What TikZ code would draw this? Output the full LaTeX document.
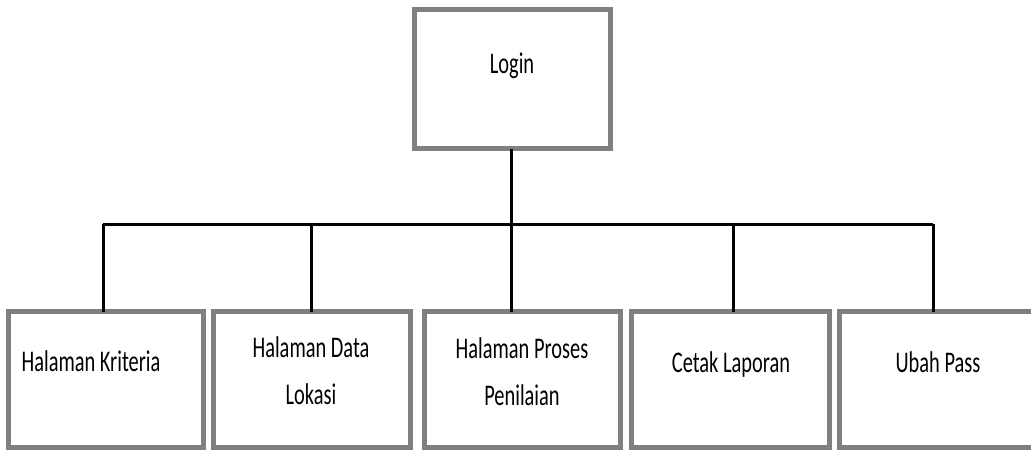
\documentclass[tikz,border=0pt]{standalone}
\usepackage{fontspec}
\setmainfont{Carlito}[FakeStretch=0.68]
\begin{document}
\begin{tikzpicture}[x=1pt,y=-1pt,
  box/.style={draw=boxgray,line width=5pt,fill=white,rectangle,inner sep=0pt,outer sep=0pt,minimum height=136pt},
  lbl/.style={inner sep=0pt,anchor=base,font=\fontsize{30}{30}\selectfont},
  conn/.style={draw=black,line width=3pt}]
\definecolor{boxgray}{HTML}{808080}
\useasboundingbox (0,0) rectangle (1031,450);
% boxes
\node[box,minimum width=196pt,minimum height=139pt] (login) at (512.5,79) {};
\node[box,minimum width=195pt] (b1) at (106,379.5) {};
\node[box,minimum width=197pt] (b2) at (312,379.5) {};
\node[box,minimum width=196pt] (b3) at (522.5,379.5) {};
\node[box,minimum width=198pt] (b4) at (730.5,379.5) {};
\node[box,minimum width=202pt] (b5) at (940.5,379.5) {};
% labels
\node[lbl] (tl) at (512,73) {Login};
\node[lbl] (t1) at (91,371) {Halaman Kriteria};
\node[lbl] (t2a) at (311,357) {Halaman Data};
\node[lbl] (t2b) at (311,404) {Lokasi};
\node[lbl] (t3a) at (522,358) {Halaman Proses};
\node[lbl] (t3b) at (522,405) {Penilaian};
\node[lbl] (t4) at (731,372) {Cetak Laporan};
\node[lbl] (t5) at (938,372) {Ubah Pass};
% connector points on the bar
\coordinate (d1) at (103,224);
\coordinate (d2) at (311,224);
\coordinate (d3) at (511,224);
\coordinate (d4) at (733,224);
\coordinate (d5) at (933,224);
\coordinate (top) at (511,0);
% connectors
\draw[conn] (d1) -- (d5);
\draw[conn] (top |- login.south) -- (d3 |- b3.north);
\draw[conn] (d1) -- (d1 |- b1.north);
\draw[conn] (d2) -- (d2 |- b2.north);
\draw[conn] (d4) -- (d4 |- b4.north);
\draw[conn] (d5) -- (d5 |- b5.north);
\end{tikzpicture}
\end{document}
